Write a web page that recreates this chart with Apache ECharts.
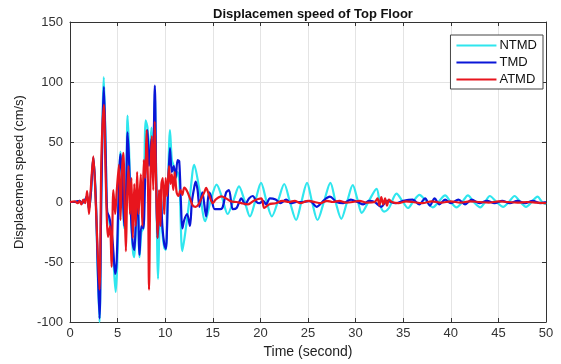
<!DOCTYPE html>
<html>
<head>
<meta charset="utf-8">
<script src="https://cdn.jsdelivr.net/npm/echarts@6/dist/echarts.min.js"></script>
<style>
  html, body { margin: 0; padding: 0; background: #fff; }
  #chart { width: 561px; height: 364px; }
</style>
</head>
<body>
<div id="chart"></div>
<script>
// time (s) / speed (cm/s)
const ntmdT = [0, 0.5, 1.0, 1.3, 1.6, 1.8, 2.0, 2.2, 2.45, 2.7, 2.9, 3.1, 3.3, 3.55, 3.75, 3.9, 4.1, 4.3, 4.5, 4.8, 4.95, 5.1, 5.3, 5.5, 5.7, 5.9, 6.05, 6.2, 6.4, 6.6, 6.75, 6.9, 7.1, 7.3, 7.5, 7.7, 7.95, 8.14, 8.3, 8.56, 8.7, 8.91, 9.05, 9.25, 9.4, 9.55, 9.7, 9.9, 10.07, 10.3, 10.5, 10.7, 10.9, 11.1, 11.3, 11.5, 11.8, 12.2, 12.6, 13.05, 13.6, 14.2, 14.8, 15.4, 16.0, 16.56, 17.2, 17.75, 18.3, 18.9, 19.5, 20.07, 20.6, 21.2, 21.9, 22.5, 23.1, 23.75, 24.3, 24.9, 25.4, 26.0, 26.7, 27.35, 27.9, 28.5, 29.1, 29.7, 30.2, 30.65, 31.4, 32.2, 32.6, 33.0, 33.5, 34.3, 34.9, 35.5, 36.1, 36.7, 37.4, 38.1, 38.7, 39.4, 40.0, 40.6, 41.2, 41.8, 42.4, 43.1, 43.6, 44.1, 44.8, 45.5, 46.1, 46.7, 47.3, 47.9, 48.5, 49.1, 49.6, 50];
const ntmdV = [0, 0, 1, -1, 2, 5, -6, 8, 37, 5, -55, -100, 12, 104, 45, -8, -15, -25, -40, -75, -55, -10, 42, 22, -22, 15, 72, 45, -10, -40, -46, -25, 10, -46, -25, -22, 68, 62, 35, 62, 25, 90, 25, -64, -20, 5, -25, -38, -40, 15, 60, 35, 30, 20, 25, 15, -41, -20, 5, 31, 10, -16, 2, 14.5, 3, -10, 2, 13, 2, -12, 2, 16, 2, -12, 2, 15, 0, -15, 0, 16, 1, -15, 1, 16, 0, -14, 0, 14, 2, -9, 1, 11, -3, -8, -5, 7, 1, -5, 1, 6, 1, -4.5, 0, 5.5, 0, -4.5, 0, 5.5, 0, -4.5, 0, 5, 0, -4, 0, 5, 0, -4, 0, 4.5, 0, -2];

const tmdT = [0, 0.5, 1.0, 1.3, 1.6, 1.8, 2.0, 2.2, 2.45, 2.7, 2.9, 3.1, 3.3, 3.56, 3.75, 3.9, 4.1, 4.3, 4.5, 4.75, 4.9, 5.05, 5.3, 5.5, 5.7, 5.9, 6.05, 6.2, 6.4, 6.6, 6.75, 6.9, 7.1, 7.3, 7.5, 7.7, 7.9, 8.14, 8.3, 8.56, 8.7, 8.91, 9.05, 9.19, 9.35, 9.5, 9.7, 9.9, 10.07, 10.3, 10.5, 10.7, 10.9, 11.1, 11.3, 11.47, 11.65, 11.8, 12.0, 12.3, 12.6, 12.8, 13.0, 13.2, 13.4, 13.6, 13.9, 14.3, 14.6, 14.8, 15.2, 15.6, 16.0, 16.4, 16.7, 17.1, 17.5, 18.0, 18.4, 18.8, 19.2, 19.6, 19.9, 20.3, 20.6, 21.0, 21.6, 22.1, 22.7, 23.2, 23.8, 24.4, 25.2, 25.9, 26.5, 26.9, 27.3, 28.0, 28.7, 29.5, 30.2, 30.8, 31.4, 32.0, 32.7, 33.3, 34.2, 35.0, 36.0, 36.7, 37.3, 37.8, 38.3, 38.8, 39.4, 40.0, 40.8, 41.5, 42.2, 43.0, 43.8, 44.6, 45.4, 46.2, 47.0, 47.8, 48.6, 49.4, 50];
const tmdV = [0, 0, 1, -1, 2, 5, -6, 8, 37, 5, -50, -97, 10, 96, 40, -8, -12, -20, -35, -60, -50, -10, 40, 20, -20, 10, 58, 35, -10, -35, -40, -20, 10, -44, -20, -22, 20, 60, 30, 53, 20, 97, 20, -30, -10, 10, -20, -35, -39, 10, 45, 25, 30, 20, 35, 34, 0, -22, -15, -10, -20, 0, 10, 17, 10, -4, 8, -12, 8, 5, -6, -6, -5, 8, 10, -6, -5, 3, -2, 3, 5, 0, -1, 1, -2, 3, 2, -1, 2, -1, 0, 0, 1, -4, 0, 3, 4.5, 0, -1, 2, 0, -2, 1, 0, -4, 1, -1, 1, 2, -2, 3, -3, 3, -2, 2, -1, 2, -2, 2, -1, 1, -1, 1, -1, 1, -1, 1, -1, 0];

const atmdT = [0, 0.5, 0.8, 1.0, 1.2, 1.4, 1.6, 1.8, 2.0, 2.15, 2.45, 2.7, 2.9, 3.1, 3.3, 3.56, 3.75, 4.0, 4.2, 4.37, 4.55, 4.75, 4.9, 5.14, 5.3, 5.45, 5.6, 5.75, 5.87, 6.0, 6.15, 6.3, 6.45, 6.6, 6.75, 6.9, 7.05, 7.2, 7.44, 7.6, 7.75, 7.9, 8.05, 8.2, 8.3, 8.45, 8.6, 8.75, 8.9, 9.05, 9.2, 9.35, 9.5, 9.6, 9.75, 9.9, 10.05, 10.2, 10.4, 10.55, 10.7, 10.85, 11.0, 11.2, 11.4, 11.6, 11.8, 12.0, 12.3, 12.6, 12.9, 13.2, 13.5, 13.8, 14.1, 14.3, 14.6, 15.0, 15.3, 15.9, 16.4, 16.9, 17.5, 18.0, 18.7, 19.3, 20.1, 20.4, 20.9, 21.6, 22.3, 23.0, 23.6, 24.2, 25.0, 25.7, 26.3, 27.0, 27.6, 28.3, 29.0, 29.7, 30.4, 31.2, 32.0, 32.3, 32.5, 32.7, 32.9, 33.1, 33.3, 33.5, 33.8, 34.5, 35.3, 36.0, 37.0, 38.0, 39.0, 40.0, 41.0, 42.0, 43.0, 44.0, 45.0, 46.0, 47.0, 48.0, 49.0, 50.0];
const atmdV = [0, 0.5, -1, 1, -2, 2, -1, 9, -10, 7, 38, 0, -40, -73, 38, 81, 20, -29, -20, -54, 10, -10, 8, 31, -15, 25, 41, -5, -41, 5, 30, -10, 20, -30, 15, -20, 25, -10, 23, -20, 35, 20, 60, 10, -73, 20, 55, 10, 67, 15, -30, 10, -20, 15, 20, -10, 20, 5, 30, 15, 23, 10, 25, 8, 5, 10, 6, 12, 9, 3, -3, -4, -2, 3, 8, 11.7, 6, -1, 2, 4.7, 3, 0.5, 0, -1, -2, 1, 3, -5, -2, -1, 1, 0, 1, -1, 1, 0, -1, 1, 0, 1, -0.5, 0, 1, -0.5, 0, 3, -3, 4, -2, 3, -3, 2, 0, -1, 0.5, 0, -1, 0.5, -0.5, 0.5, -0.5, 0.5, 0, -0.5, 0.5, 0, -0.5, 0, -0.5, -1];

const xTicks = [0, 5, 10, 15, 20, 25, 30, 35, 40, 45, 50];
const yTicks = [-100, -50, 0, 50, 100, 150];

const pairs = (t, v) => t.map((x, i) => [x, v[i]]);

const font = 'Liberation Sans, Arial, sans-serif';
const chart = echarts.init(document.getElementById('chart'), null, { renderer: 'canvas' });

const axisBase = {
  type: 'value',
  axisLine: { show: true, onZero: false, lineStyle: { color: '#333', width: 1 } },
  axisTick: { show: true, inside: true, length: 4, lineStyle: { color: '#333' } },
};

chart.setOption({
  animation: false,
  backgroundColor: '#fff',
  title: {
    text: 'Displacemen speed of Top Floor',
    left: 308,
    top: 3,
    textAlign: 'center',
    textStyle: { fontFamily: font, fontSize: 13, fontWeight: 'bold', color: '#111' },
  },
  grid: { left: 70, right: 15, top: 22, bottom: 39, show: false },
  legend: {
    data: ['NTMD', 'TMD', 'ATMD'],
    orient: 'vertical',
    right: 18,
    top: 35,
    icon: 'rect',
    itemWidth: 40,
    itemHeight: 2,
    itemGap: 4,
    padding: [4, 6, 3, 6],
    backgroundColor: '#fff',
    borderColor: '#444',
    borderWidth: 1,
    borderRadius: 0,
    textStyle: { fontFamily: font, fontSize: 13, color: '#111', padding: [0, 0, 0, -2] },
  },
  xAxis: [
    {
      ...axisBase,
      position: 'bottom',
      min: 0, max: 50, interval: 5,
      name: 'Time (second)',
      nameLocation: 'middle',
      nameGap: 23,
      nameTextStyle: { fontFamily: font, fontSize: 14, color: '#222' },
      axisLabel: { fontFamily: font, fontSize: 13, color: '#333', margin: 5,
        formatter: (v) => (xTicks.includes(v) ? String(v) : '') },
      splitLine: { show: true, lineStyle: { color: '#e4e4e4', width: 1 } },
    },
    {
      ...axisBase,
      position: 'top',
      min: 0, max: 50, interval: 5,
      axisLabel: { show: false },
      splitLine: { show: false },
    },
  ],
  yAxis: [
    {
      ...axisBase,
      position: 'left',
      min: -100, max: 150, interval: 50,
      name: 'Displacemen speed (cm/s)',
      nameLocation: 'middle',
      nameGap: 44,
      nameTextStyle: { fontFamily: font, fontSize: 13, color: '#222' },
      axisLabel: { fontFamily: font, fontSize: 13, color: '#333', margin: 7,
        formatter: (v) => (yTicks.includes(v) ? String(v) : '') },
      splitLine: { show: true, lineStyle: { color: '#e4e4e4', width: 1 } },
    },
    {
      ...axisBase,
      position: 'right',
      min: -100, max: 150, interval: 50,
      axisLabel: { show: false },
      splitLine: { show: false },
    },
  ],
  series: [
    {
      name: 'NTMD', type: 'line', data: pairs(ntmdT, ntmdV),
      symbol: 'none', smooth: 0.3, color: '#2fe6ee',
      lineStyle: { width: 2.2 },
    },
    {
      name: 'TMD', type: 'line', data: pairs(tmdT, tmdV),
      symbol: 'none', smooth: 0.3, color: '#0a16d8',
      lineStyle: { width: 2.2 },
    },
    {
      name: 'ATMD', type: 'line', data: pairs(atmdT, atmdV),
      symbol: 'none', smooth: 0.3, color: '#e8151d',
      lineStyle: { width: 2.2 },
    },
  ],
});
</script>
</body>
</html>
